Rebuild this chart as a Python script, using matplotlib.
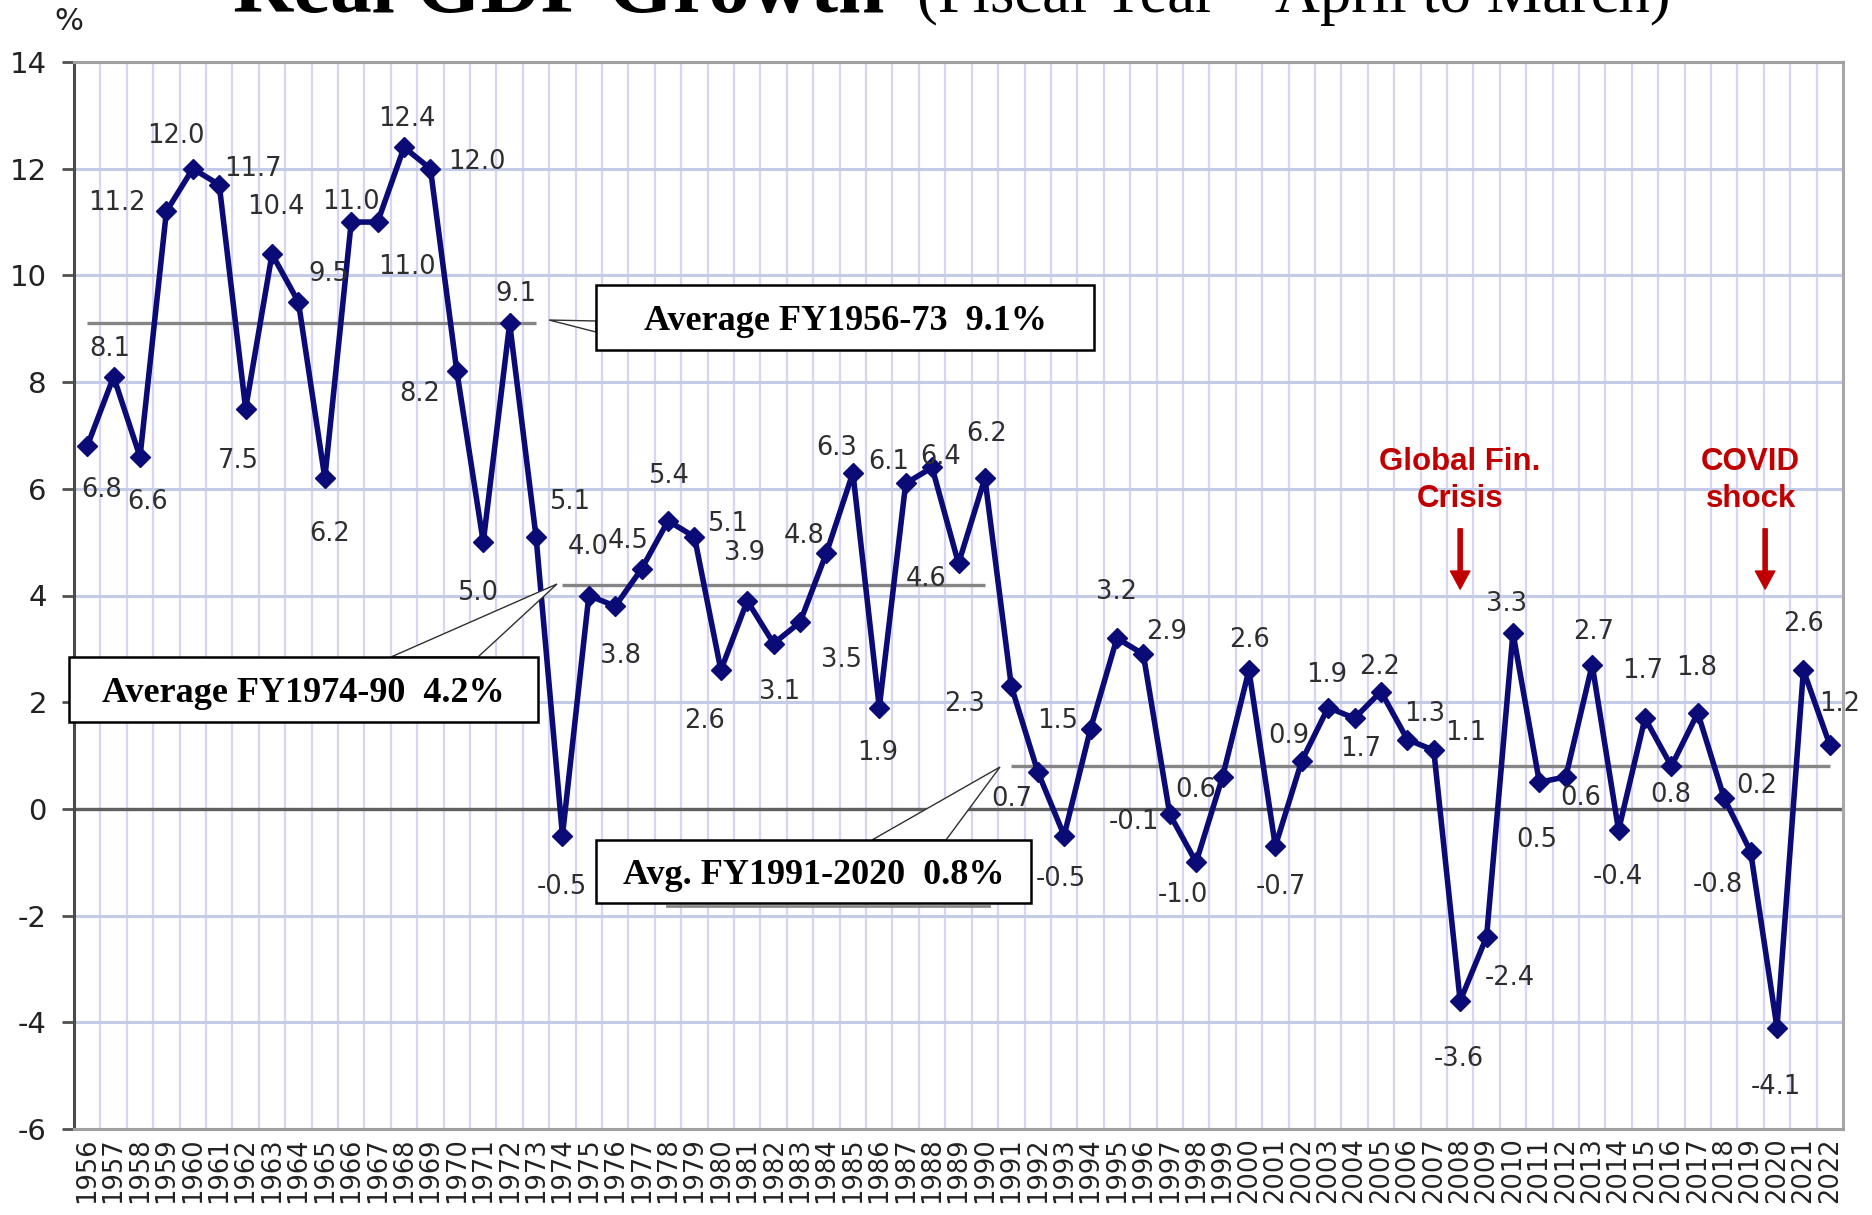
import matplotlib
matplotlib.use("Agg")
import matplotlib.pyplot as plt
from matplotlib.patches import Rectangle, Polygon
from matplotlib.lines import Line2D

plt.rcParams["axes.unicode_minus"] = False

# ---- data -------------------------------------------------------------
years = list(range(1956, 2023))
growth = [6.8, 8.1, 6.6, 11.2, 12.0, 11.7, 7.5, 10.4, 9.5, 6.2,
          11.0, 11.0, 12.4, 12.0, 8.2, 5.0, 9.1, 5.1, -0.5, 4.0,
          3.8, 4.5, 5.4, 5.1, 2.6, 3.9, 3.1, 3.5, 4.8, 6.3,
          1.9, 6.1, 6.4, 4.6, 6.2, 2.3, 0.7, -0.5, 1.5, 3.2,
          2.9, -0.1, -1.0, 0.6, 2.6, -0.7, 0.9, 1.9, 1.7, 2.2,
          1.3, 1.1, -3.6, -2.4, 3.3, 0.5, 0.6, 2.7, -0.4, 1.7,
          0.8, 1.8, 0.2, -0.8, -4.1, 2.6, 1.2]

avg_values = [9.1, 4.2, 0.8]
avg_first_year = [1956, 1974, 1991]
avg_last_year = [1973, 1990, 2022]
avg_texts = ["Average FY1956-73  9.1%", "Average FY1974-90  4.2%",
             "Avg. FY1991-2020  0.8%"]

event_texts = ["Global Fin.\nCrisis", "COVID\nshock"]

yticks = list(range(-6, 15, 2))

# ---- layout -------------------------------------------------------------
W, H = 1872, 1215
DPI = 100

# value-label offsets from each point, in pixels (right, down)
label_offsets = [
    (14, 44), (-4, -28), (8, 45), (-50, -8), (-17, -33), (34, -16), (-7, 52),
    (4, -47), (30, -28), (5, 56), (0, -20), (29, 45), (3, -28), (46, -7),
    (-37, 23), (-6, 51), (6, -29), (34, -35), (-1, 51), (-1, -49), (5, 50),
    (-13, -28), (0, -45), (33, -13), (-16, 51), (-3, -48), (6, 48), (41, 38),
    (-22, -17), (-16, -25), (-2, 45), (-17, -21), (9, -10), (-32, 16), (2, -44),
    (-47, 18), (-26, 27), (-3, 43), (-33, -8), (0, -46), (23, -22), (-36, 8),
    (-13, 33), (-27, 13), (1, -30), (6, 41), (-13, -25), (-2, -33), (6, 31),
    (-1, -25), (17, -26), (32, -17), (-1, 58), (23, 41), (-6, -29), (-3, 58),
    (15, 21), (1, -33), (-1, 47), (-2, -47), (-1, 29), (-1, -45), (33, -12),
    (-33, 33), (-1, 59), (0, -46), (10, -41),
]

# callout boxes (left, top, right, bottom) and wedge (tip, base1, base2), in pixels
box_rects = [(596, 285, 1094, 350), (69, 657, 538, 722), (596, 840, 1031, 903)]
wedges = [((549, 320), (596, 321), (596, 332)),
          ((557, 584), (391, 657), (478, 657)),
          ((1000, 767), (872, 840), (946, 840))]

NAVY = "#0b0b78"
RED = "#c00000"


def fx(px):
    return px / W


def fy(py):
    return 1 - py / H


fig = plt.figure(figsize=(W / DPI, H / DPI), dpi=DPI)
fig.patch.set_facecolor("white")

ax_l, ax_r, ax_t, ax_b = 74, 1843, 62, 1129
ax = fig.add_axes([fx(ax_l), fy(ax_b), fx(ax_r - ax_l), (ax_b - ax_t) / H])

n = len(years)
xs = list(range(n))
ax.set_xlim(-0.5, n - 0.5)
ax.set_ylim(-6, 14)

# grid
ax.set_yticks(yticks)
ax.set_yticklabels([str(t) for t in yticks])
ax.set_xticks(xs)
ax.set_xticklabels([str(y) for y in years], rotation=90)
ax.set_xticks([i + 0.5 for i in range(n - 1)], minor=True)
ax.grid(axis="x", which="minor", color="#d6d6f4", lw=1.6, zorder=0)
ax.grid(axis="y", which="major", color="#c3cbe6", lw=2.2, zorder=0)
ax.set_axisbelow(True)

ax.tick_params(axis="y", which="major", length=8.5, width=2, color="#505050",
               labelsize=21, pad=11, labelcolor="#222222")
ax.tick_params(axis="x", which="both", length=0, labelsize=18.5, pad=6,
               labelcolor="#222222")
ax.tick_params(axis="y", which="minor", length=0)

for s in ax.spines.values():
    s.set_linewidth(2.2)
ax.spines["left"].set_color("#4a4a4a")
ax.spines["top"].set_color("#a0a0a0")
ax.spines["right"].set_color("#a8a8a8")
ax.spines["bottom"].set_color("#a0a0a0")

ax.axhline(0, color="#606060", lw=2.4, zorder=1)

# period averages
for val, y0, y1 in zip(avg_values, avg_first_year, avg_last_year):
    ax.hlines(val, y0 - years[0], y1 - years[0], color="#858585", lw=2.4, zorder=2)

# series
ax.plot(xs, growth, color=NAVY, lw=4.0, marker="D", ms=10,
        mec=NAVY, mfc=NAVY, zorder=4)

for x, v, (dx, dy) in zip(xs, growth, label_offsets):
    ax.annotate(f"{v:.1f}", (x, v), xytext=(dx * 0.72, -dy * 0.72),
                textcoords="offset points", ha="center", va="center",
                fontsize=18.5, color="#2e2e2e", family="DejaVu Sans", zorder=6)

# event markers
gfc_x = 2008 - years[0]
covid_x = 2019.55 - years[0]
ax.text(gfc_x, 6.15, event_texts[0], ha="center", va="center", color=RED,
        fontsize=22.5, fontweight="bold", family="Liberation Sans",
        linespacing=1.3, zorder=7)
ax.text(2019 - years[0], 6.15, event_texts[1], ha="center", va="center",
        color=RED, fontsize=22.5, fontweight="bold", family="Liberation Sans",
        linespacing=1.3, zorder=7)
for xa in (gfc_x, covid_x):
    ax.annotate("", xy=(xa, 4.12), xytext=(xa, 5.25),
                arrowprops=dict(width=3.0, headwidth=14, headlength=13,
                                color=RED, shrink=0), zorder=7)

# callout boxes
for (l, t, r, b), (tip, b1, b2), txt in zip(box_rects, wedges, avg_texts):
    wedge = Polygon([(fx(tip[0]), fy(tip[1])), (fx(b1[0]), fy(b1[1])),
                     (fx(b2[0]), fy(b2[1]))], closed=True,
                    transform=fig.transFigure, facecolor="white",
                    edgecolor="#303030", lw=1.0, zorder=8)
    fig.add_artist(wedge)
    rect = Rectangle((fx(l), fy(b)), fx(r - l), (b - t) / H,
                     transform=fig.transFigure, facecolor="white",
                     edgecolor="black", lw=1.8, zorder=9)
    fig.add_artist(rect)
    fig.text(fx((l + r) / 2), fy((t + b) / 2 + 4), txt, ha="center",
             va="center", fontsize=26, fontweight="bold",
             family="Liberation Serif", color="black", zorder=10)

# faint shadow under the last box
fig.add_artist(Line2D([fx(667), fx(989)], [fy(906), fy(906)],
                      transform=fig.transFigure, color="#8a8a8a", lw=2.0,
                      zorder=7))

# unit and title
fig.text(fx(69), fy(22), "%", ha="center", va="center", fontsize=22,
         family="DejaVu Sans", color="#222222")
fig.text(fx(233), fy(12), "Real GDP Growth", ha="left", va="baseline",
         fontsize=60, fontweight="bold", family="Liberation Serif")
fig.text(fx(917), fy(12), "(Fiscal Year \u2013 April to March)", ha="left",
         va="baseline", fontsize=45, family="Liberation Serif")

fig.savefig("out.png", dpi=DPI, facecolor="white")
